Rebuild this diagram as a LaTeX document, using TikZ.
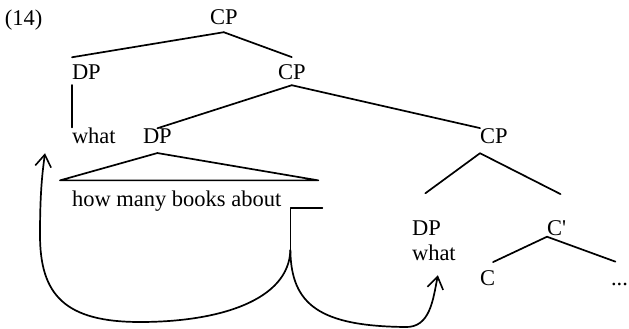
\documentclass[tikz,border=0pt]{standalone}
\usepackage{fontspec}
\setmainfont{Liberation Serif}
\newfontfamily\plainserif{Liberation Serif}
\usetikzlibrary{arrows.meta}
\begin{document}
\begin{tikzpicture}[x=1pt,y=-1pt,
  every node/.style={inner sep=0pt, outer sep=0pt, anchor=base west,
    font=\fontsize{22.5}{27}\selectfont},
  branch/.style={line width=1.7pt, line cap=round, line join=round},
  move/.style={line width=1.7pt, line cap=round,
    -{Straight Barb[length=12pt,width=16pt,line width=1.6pt]}}]
\useasboundingbox (0,0) rectangle (629,329);
% nodes
\node (ex)   at (5,26)    {(14)};
\node (cp1)  at (210,25)  {CP};
\node (dp1)  at (72,80)   {DP};
\node (cp2)  at (278,80)  {CP};
\node (wh1)  at (72,143)  {what};
\node (dp2)  at (143,143) {DP};
\node (cp3)  at (480,143) {CP};
\node (hm)   at (72,206)  {how many books about};
\node (dp3)  at (412,235) {DP};
\node (wh2)  at (412,260) {what};
\node (cb)   at (547,235) {C{\plainserif'}};
\node (c)    at (480,285) {C};
\node (dots) at (611,285) {...};
% branches
\draw[branch] ([yshift=-7pt]cp1.south) -- ([yshift=8pt]dp1.north west);
\draw[branch] ([yshift=-7pt]cp1.south) -- ([yshift=8pt]cp2.north);
\draw[branch] ([yshift=-5pt]dp1.south west) -- (wh1.north west);
\draw[branch] ([yshift=-5pt]cp2.south) -- (dp2.north);
\draw[branch] ([yshift=-5pt]cp2.south) -- (cp3.north west);
\draw[branch] ([yshift=-10pt]dp2.south) -- ([xshift=-12pt,yshift=10pt]hm.north west)
  -- ([xshift=37pt,yshift=10pt]hm.north east) -- cycle;
\draw[branch] ([xshift=-1pt,yshift=27pt]dp3.north) -- ([yshift=-10pt]cp3.south west)
  -- ([xshift=4pt,yshift=26pt]cb.north);
\draw[branch] ([xshift=-2pt,yshift=8pt]c.north east) -- ([yshift=-1.5pt]cb.south west)
  -- ([xshift=-4pt,yshift=21pt]dots.north);
% movement
\coordinate (t1) at ([xshift=9pt,yshift=-2pt]hm.base east);
\coordinate (t2) at ([xshift=41pt,yshift=-2pt]hm.base east);
\coordinate (split) at ([yshift=-42pt]t1);
\coordinate (tip1) at ([xshift=-27pt,yshift=-10pt]wh1.south west);
\coordinate (tip2) at ([xshift=4pt,yshift=-15pt]wh2.south);
\draw[branch] (t2) -- (t1) -- (split);
\draw[move] (split) .. controls (289,300) and (220,322) .. (140,322)
  .. controls (65,322) and (40,295) .. (40,235)
  .. controls (40,195) and (42,175) .. (tip1);
\draw[move] (split) .. controls (291,305) and (320,326) .. (405,327)
  .. controls (430,328) and (433,300) .. (tip2);
\end{tikzpicture}
\end{document}
